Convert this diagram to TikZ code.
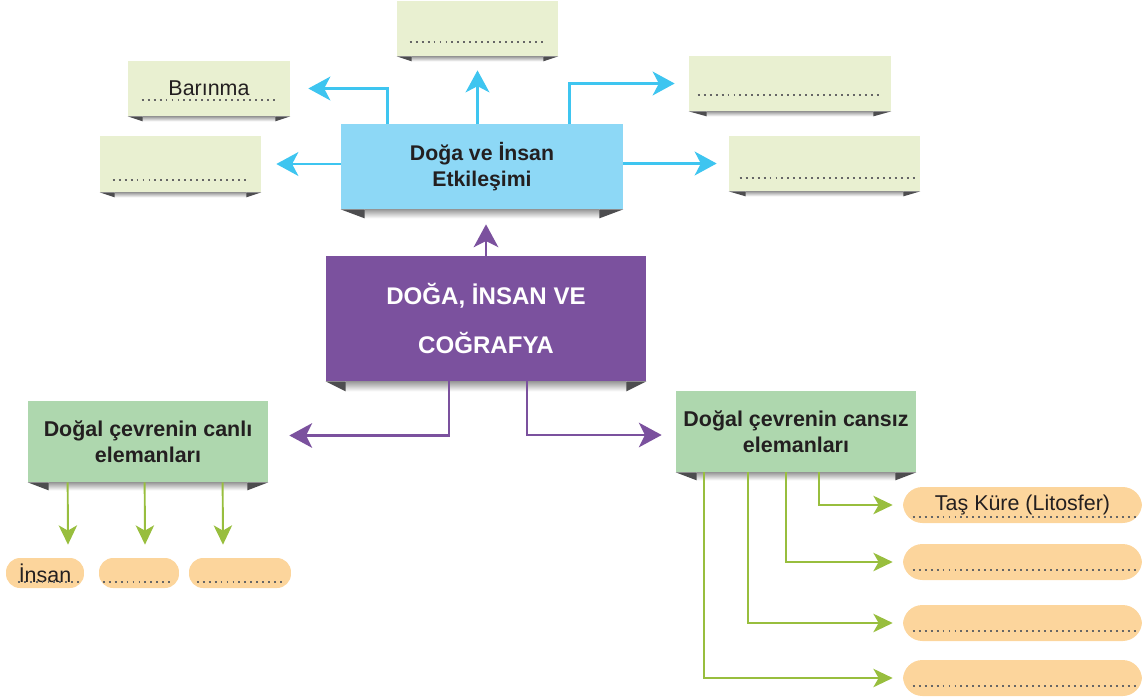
\documentclass[tikz,border=0pt]{standalone}
\usepackage{fontspec}
\setmainfont{Liberation Sans}
\usetikzlibrary{arrows.meta}

\definecolor{acikyesil}{HTML}{E9F0D1}
\definecolor{mavikutu}{HTML}{8DD8F6}
\definecolor{maviok}{HTML}{3EC5F0}
\definecolor{mor}{HTML}{7B519E}
\definecolor{yesilkutu}{HTML}{AED7AE}
\definecolor{yesilok}{HTML}{98BE3E}
\definecolor{turuncu}{HTML}{FCD59C}
\definecolor{kivrimrenk}{HTML}{4D4D4F}
\definecolor{yazi}{HTML}{231F20}

\tikzset{
	bosluk/.style={fill=acikyesil, inner sep=0pt, minimum height=1.1cm, text=yazi, font=\fontsize{12.2}{15}\selectfont},
	etkkutu/.style={fill=mavikutu, inner sep=0pt, minimum width=5.64cm, minimum height=1.7cm, align=center, text=yazi, font=\bfseries\fontsize{12.1}{14.7}\selectfont},
	anakutu/.style={fill=mor, inner sep=0pt, minimum width=6.4cm, minimum height=2.5cm, align=center, text=white, font=\bfseries\fontsize{13.7}{27.8}\selectfont},
	yesilkutu/.style={fill=yesilkutu, inner sep=0pt, minimum width=4.8cm, minimum height=1.62cm, align=center, text=yazi, font=\bfseries\fontsize{12.2}{14.9}\selectfont},
	hap/.style={fill=turuncu, rounded corners=8pt, inner sep=0pt, minimum height=0.6cm, text=yazi, font=\fontsize{12.2}{15}\selectfont},
	uzunhap/.style={hap, rounded corners=11pt, minimum width=4.78cm, minimum height=0.72cm},
	nokta/.style={draw=black!60, line width=1.1pt, dash pattern=on 1.1pt off 2.3pt},
	maviyol/.style={draw=maviok, line width=1.7pt, -{Stealth[length=12.5pt, width=13.5pt, inset=3.5pt]}},
	moryol/.style={draw=mor, line width=1.5pt, -{Stealth[length=13pt, width=14pt, inset=3.5pt]}},
	yesilyol/.style={draw=yesilok, line width=1.1pt, -{Stealth[length=11pt, width=10.5pt, inset=3pt]}}
}

% kutu altindaki kivrim: dugum, genislik, yukseklik
\newcommand{\kivrim}[3]{
	\shade[top color=black!40, bottom color=white] ([shift={(#2,0)}]#1.south west) rectangle ([shift={(-#2,#3)}]#1.south east);
	\fill[kivrimrenk] (#1.south west) -- ++(#2,0) -- ++(0,#3) -- cycle;
	\fill[kivrimrenk] (#1.south east) -- ++(-#2,0) -- ++(0,#3) -- cycle;
}
% noktali cizgi: dugum, sol, sag, alttan yukseklik
\newcommand{\noktalar}[4]{
	\draw[nokta] ([shift={(#2,-#4)}]#1.south west) -- ([shift={(-#3,-#4)}]#1.south east);
}

\begin{document}
\begin{tikzpicture}[x=0.02cm, y=-0.02cm]
	\useasboundingbox (0,0) rectangle (1142,697);

	\node[bosluk, minimum width=3.22cm] (ust) at (477.5,28.5) {};
	\node[bosluk, minimum width=3.24cm] (bar) at (209,88.5) {Barınma};
	\node[bosluk, minimum width=3.22cm, minimum height=1.12cm] (sol) at (180.5,164) {};
	\node[bosluk, minimum width=4.04cm] (sag1) at (790,83.5) {};
	\node[bosluk, minimum width=3.82cm] (sag2) at (824.5,163.5) {};
	\kivrim{ust}{15}{5}
	\kivrim{bar}{15}{5}
	\kivrim{sol}{15}{5}
	\kivrim{sag1}{18}{5}
	\kivrim{sag2}{17}{5}
	\noktalar{ust}{13}{13}{14}
	\noktalar{bar}{14}{15}{16}
	\noktalar{sol}{13}{14}{12}
	\noktalar{sag1}{9}{9}{16}
	\noktalar{sag2}{11}{3}{13}

	\node[etkkutu] (etk) at (482,166.5) {Doğa ve İnsan\\Etkileşimi};
	\kivrim{etk}{24}{9}

	\draw[maviyol] ([xshift=0.94cm]etk.north west) |- ([xshift=0.36cm]bar.east);
	\draw[maviyol] (etk.north -| ust.south) -- ([yshift=-0.28cm]ust.south);
	\draw[maviyol] ([xshift=-1.08cm]etk.north east) |- ([xshift=-0.28cm]sag1.west);
	\draw[maviyol] (etk.west |- sol.east) -- ([xshift=0.3cm]sol.east);
	\draw[maviyol] (etk.east |- sag2.west) -- ([xshift=-0.24cm]sag2.west);

	\node[anakutu] (dic) at (486,318.5) {DOĞA, İNSAN VE\\COĞRAFYA};
	\kivrim{dic}{20}{10}

	\node[yesilkutu] (canli) at (148,441.5) {Doğal çevrenin canlı\\elemanları};
	\node[yesilkutu] (cansiz) at (796,431.5) {Doğal çevrenin cansız\\elemanları};
	\kivrim{canli}{21}{8}
	\kivrim{cansiz}{21}{8}

	\draw[moryol, shorten >=0.3cm] (dic.north) -- (dic.north |- etk.south);
	\draw[moryol] ([xshift=-0.74cm]dic.south) |- ([shift={(21,-6)}]canli.east);
	\draw[moryol] ([xshift=0.82cm]dic.south) |- ([shift={(-14,3.5)}]cansiz.west);

	\node[hap, minimum width=1.56cm] (o1) at (45,573) {İnsan};
	\node[hap, minimum width=1.6cm] (o2) at (139,573) {};
	\node[hap, minimum width=2.04cm] (o3) at (240,573) {};
	\noktalar{o1}{12}{4}{6}
	\noktalar{o2}{4}{7}{6}
	\noktalar{o3}{8}{8}{6}

	\draw[yesilyol] ([xshift=0.8cm]canli.south west) -- ([shift={(23,-13)}]o1.north);
	\draw[yesilyol] ([xshift=2.34cm]canli.south west) -- ([shift={(6,-13)}]o2.north);
	\draw[yesilyol] ([xshift=3.9cm]canli.south west) -- ([shift={(-17,-13)}]o3.north);

	\node[uzunhap] (k1) at (1022.5,505) {Taş Küre (Litosfer)};
	\node[uzunhap] (k2) at (1022.5,562) {};
	\node[uzunhap] (k3) at (1022.5,623) {};
	\node[uzunhap] (k4) at (1022.5,678) {};
	\noktalar{k1}{10}{5}{6}
	\noktalar{k2}{10}{5}{10}
	\noktalar{k3}{10}{5}{10}
	\noktalar{k4}{10}{5}{10}

	\draw[yesilyol] ([xshift=0.56cm]cansiz.south west) |- ([xshift=-0.2cm]k4.west);
	\draw[yesilyol] ([xshift=1.44cm]cansiz.south west) |- ([xshift=-0.2cm]k3.west);
	\draw[yesilyol] ([xshift=2.2cm]cansiz.south west) |- ([xshift=-0.2cm]k2.west);
	\draw[yesilyol] ([xshift=2.86cm]cansiz.south west) |- ([xshift=-0.2cm]k1.west);
\end{tikzpicture}
\end{document}
